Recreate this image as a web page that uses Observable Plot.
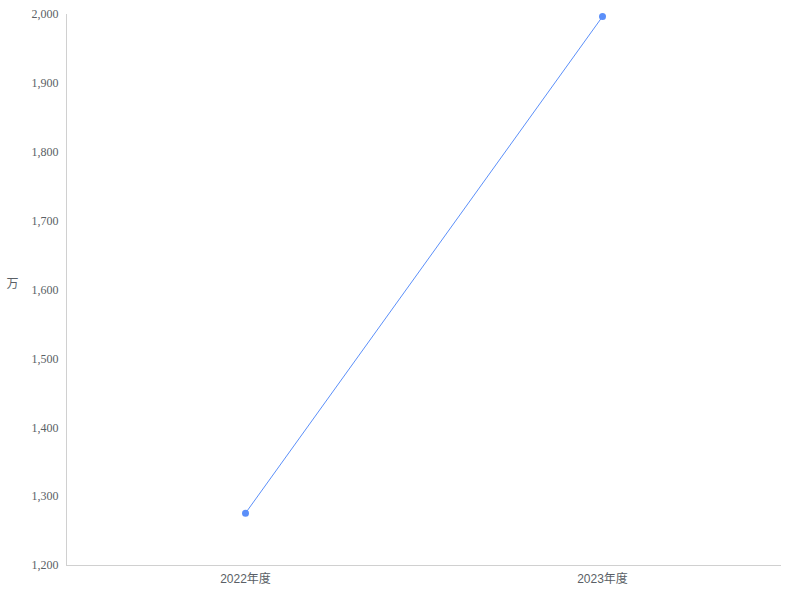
<!DOCTYPE html>
<html>
<head>
<meta charset="utf-8">
<script src="https://cdn.jsdelivr.net/npm/d3@7"></script>
<script src="https://cdn.jsdelivr.net/npm/@observablehq/plot@0.6"></script>
<style>
  html, body { margin: 0; padding: 0; background: #fff; }
  #chart svg { display: block; }
</style>
</head>
<body>
<div id="chart"></div>
<script>
const categories = ["2022年度", "2023年度"];
const values = [1276, 1997];
const yTicks = [1200, 1300, 1400, 1500, 1600, 1700, 1800, 1900, 2000];
const unitLabel = "万";

const data = categories.map((c, i) => ({ year: c, value: values[i] }));

const chart = Plot.plot({
  width: 800,
  height: 600,
  marginTop: 14,
  marginRight: 20,
  marginBottom: 35,
  marginLeft: 66,
  style: { background: "#fff", fontSize: "12px", color: "#595959" },
  x: { type: "point", domain: categories, padding: 0.5, label: null },
  y: { domain: [1200, 2000], label: null },
  marks: [
    Plot.frame({ anchor: "left", stroke: "#d0d0d0" }),
    Plot.frame({ anchor: "bottom", stroke: "#d0d0d0" }),
    Plot.axisY({ ticks: yTicks, tickSize: 0, tickPadding: 8, tickFormat: d3.format(","), fontFamily: "Liberation Serif", fontSize: 12, fill: "#5a5f66", label: null }),
    Plot.axisX({ tickSize: 0, tickPadding: 9, fontFamily: "Liberation Sans, Noto Sans CJK SC", fontSize: 12, fill: "#5a5f66", label: null }),
    Plot.text([unitLabel], { frameAnchor: "left", textAnchor: "start", dx: -60, dy: -6, fontFamily: "Noto Sans CJK SC", fontSize: 12, fill: "#5a5f66" }),
    Plot.line(data, { x: "year", y: "value", stroke: "#5b8ff9", strokeWidth: 1 }),
    Plot.dot(data, { x: "year", y: "value", r: 3.5, fill: "#5b8ff9", stroke: "none" })
  ]
});
document.getElementById("chart").appendChild(chart);
</script>
</body>
</html>
